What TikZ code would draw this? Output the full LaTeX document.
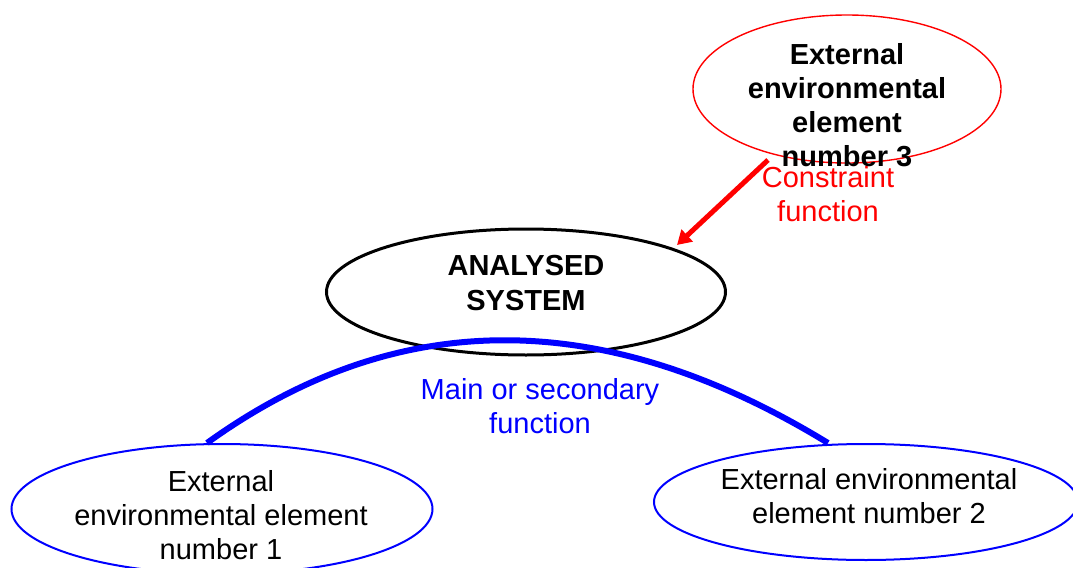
\documentclass[tikz,border=0pt]{standalone}
\usepackage{fontspec}
\setmainfont{Liberation Sans}
\usetikzlibrary{shapes.geometric,arrows.meta,calc}
\tikzset{
  txt/.style={align=center,inner sep=0pt,font=\fontsize{14.5pt}{17pt}\selectfont},
  ell/.style={ellipse,inner sep=0pt,outer sep=0pt},
  redell/.style={ell,draw=red,line width=0.7pt},
  sysell/.style={ell,draw=black,line width=1.5pt},
  blueell/.style={ell,draw=blue,line width=1pt},
  constraint/.style={draw=red,line width=2.5pt,-{Triangle[length=7pt,width=8pt]}},
  mainfn/.style={draw=blue,line width=3pt},
}
\begin{document}
\begin{tikzpicture}[x=0.5pt,y=-0.5pt]
\useasboundingbox (0,0) rectangle (1073,568);
\clip (0,0) rectangle (1073,568);
% ellipses
\node[redell,minimum width=154pt,minimum height=74pt] (e3) at (847,89) {};
\node[sysell,minimum width=199.5pt,minimum height=63pt] (sys) at (526,292) {};
\node[blueell,minimum width=210.5pt,minimum height=65pt] (e1) at (222,509) {};
\node[blueell,minimum width=212pt,minimum height=58pt] (e2) at (866,502) {};
% texts
\node[txt,font=\fontsize{14.5pt}{17pt}\selectfont\bfseries] (t3) at (847,105) {External\\environmental\\element\\number 3};
\node[txt,font=\fontsize{14.5pt}{17.5pt}\selectfont\bfseries] (tsys) at (526,283) {ANALYSED\\SYSTEM};
\node[txt] (t1) at (221,515) {External\\environmental element\\number 1};
\node[txt] (t2) at (869,496) {External environmental\\element number 2};
\node[txt,text=red] (tc) at (828,194) {Constraint\\function};
\node[txt,text=blue] (tm) at (540,406) {Main or secondary\\function};
% connectors
\draw[constraint] ($(e3.south)+(-79,-3)$) -- ($(sys.center)+(151,-47)$);
\draw[mainfn] ($(e1.north)+(-15,-1)$) .. controls (397,306) and (604,306) .. ($(e2.north)+(-38,-1)$);
\end{tikzpicture}
\end{document}
